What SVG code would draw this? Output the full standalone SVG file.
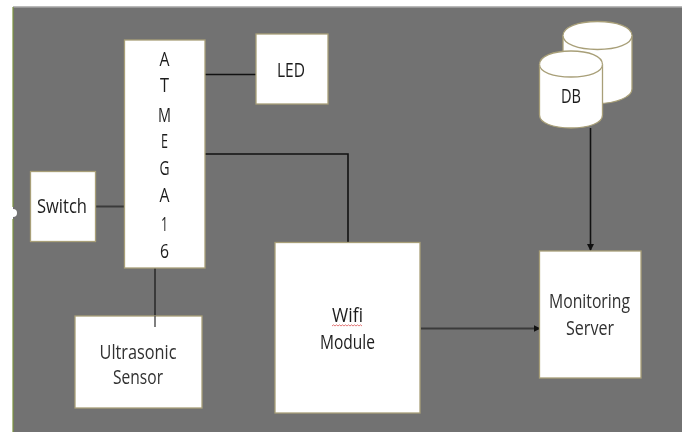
<svg xmlns="http://www.w3.org/2000/svg" width="686" height="432" viewBox="0 0 686 432">
<style>
.b{fill:#fff;stroke:#a89f78;stroke-width:1.300}
.t{font-family:"Open Sans","Noto Sans",sans-serif;font-size:20px;fill:#1c1c1c;text-anchor:middle}
.d{fill:#303030}
.c{fill:none;stroke:#111;stroke-width:1.600}
.s{fill:none;stroke:#3a3a3a;stroke-width:2}
</style>
<defs>
<marker id="a" markerWidth="7" markerHeight="7" refX="6" refY="3.5" orient="auto" markerUnits="userSpaceOnUse"><path d="M0 0L7 3.5L0 7Z" fill="#111"/></marker>
<filter id="f" x="-5%" y="-20%" width="110%" height="140%"><feGaussianBlur stdDeviation="0.4"/></filter>
</defs>
<rect width="686" height="432" fill="#fff"/>
<rect x="13" y="6.500" width="669" height="425.500" fill="#727272"/>
<path d="M13 7H682" stroke="#bdbdbd" stroke-width="1" fill="none"/>
<path d="M13 7V207M13 219V432" stroke="#7d9440" stroke-width="1.200" fill="none"/>
<circle cx="13" cy="213" r="4" fill="#fff"/>
<g id="connectors">
<path class="c" d="M205 74.500H256"/>
<path class="c" d="M205 154H348V242"/>
<path class="s" d="M96 206.500H125"/>
<path class="s" d="M155 268V316"/>
<path class="c" d="M590.500 128V250" marker-end="url(#a)"/>
<path class="s" d="M421 328.500H539.500" marker-end="url(#a)"/>
</g>
<g id="atmega">
<rect class="b" x="124.500" y="40" width="80.500" height="228"/>
<g class="t" filter="url(#f)">
<text x="164.500" y="66" textLength="10" lengthAdjust="spacingAndGlyphs">A</text>
<text x="164.500" y="92" textLength="9" lengthAdjust="spacingAndGlyphs">T</text>
<text x="164.500" y="122" textLength="13" lengthAdjust="spacingAndGlyphs">M</text>
<text x="164.500" y="148" textLength="7" lengthAdjust="spacingAndGlyphs">E</text>
<text x="164.500" y="175" textLength="10" lengthAdjust="spacingAndGlyphs">G</text>
<text x="164.500" y="202" textLength="10" lengthAdjust="spacingAndGlyphs">A</text>
<text x="164.500" y="231" textLength="7" lengthAdjust="spacingAndGlyphs">1</text>
<text x="164.500" y="258" textLength="9" lengthAdjust="spacingAndGlyphs">6</text>
</g>
</g>
<g id="led">
<rect class="b" x="256" y="34" width="72" height="70"/>
<text class="t" x="291" y="77" textLength="28" lengthAdjust="spacingAndGlyphs" filter="url(#f)">LED</text>
</g>
<g id="switch">
<rect class="b" x="30.500" y="171.500" width="65" height="70"/>
<text class="t" x="62" y="213" textLength="50" lengthAdjust="spacingAndGlyphs" filter="url(#f)">Switch</text>
</g>
<g id="ultrasonic">
<rect class="b" x="75" y="316" width="127" height="92"/>
<path d="M155 316V327" stroke="#555" stroke-width="1.500"/>
<text class="t d" x="138" y="359" textLength="77" lengthAdjust="spacingAndGlyphs" filter="url(#f)">Ultrasonic</text>
<text class="t d" x="138" y="384" textLength="50" lengthAdjust="spacingAndGlyphs" filter="url(#f)">Sensor</text>
</g>
<g id="wifi">
<rect class="b" x="275" y="242.500" width="145" height="170.500"/>
<text class="t" x="347.500" y="322" textLength="31" lengthAdjust="spacingAndGlyphs" filter="url(#f)">Wifi</text>
<path d="M332 326l1.500-1.200 1.500 1.200 1.500-1.200 1.500 1.200 1.500-1.200 1.500 1.200 1.500-1.200 1.500 1.200 1.500-1.200 1.500 1.200 1.500-1.200 1.500 1.200 1.500-1.200 1.500 1.200 1.500-1.200 1.500 1.200 1.500-1.200 1.500 1.200 1.500-1.200 1.500 1.200" fill="none" stroke="#e06a6a" stroke-width="0.900"/>
<text class="t" x="347.500" y="349" textLength="55" lengthAdjust="spacingAndGlyphs" filter="url(#f)">Module</text>
</g>
<g id="server">
<rect class="b" x="539.500" y="251" width="101.500" height="127"/>
<text class="t d" x="589.500" y="308" textLength="81" lengthAdjust="spacingAndGlyphs" filter="url(#f)">Monitoring</text>
<text class="t d" x="590" y="335" textLength="48" lengthAdjust="spacingAndGlyphs" filter="url(#f)">Server</text>
</g>
<g id="db">
<path class="b" d="M563 35.500C563 27 578 21.500 597.500 21.500S632 27 632 35.500V89C632 97 616 103.500 597.500 103.500H563Z"/>
<path class="b" d="M563 35.500C563 44 578 49.500 597.500 49.500S632 44 632 35.500"/>
<path class="b" d="M539.500 64.500C539.500 56 553 51 571 51S602.500 56 602.500 64.500V115C602.500 123 589 128 571 128S539.500 123 539.500 115Z"/>
<path class="b" d="M539.500 64.500C539.500 72 553 77 571 77S602.500 72 602.500 64.500"/>
<text class="t" x="571" y="103" textLength="20" lengthAdjust="spacingAndGlyphs" filter="url(#f)">DB</text>
</g>
</svg>
